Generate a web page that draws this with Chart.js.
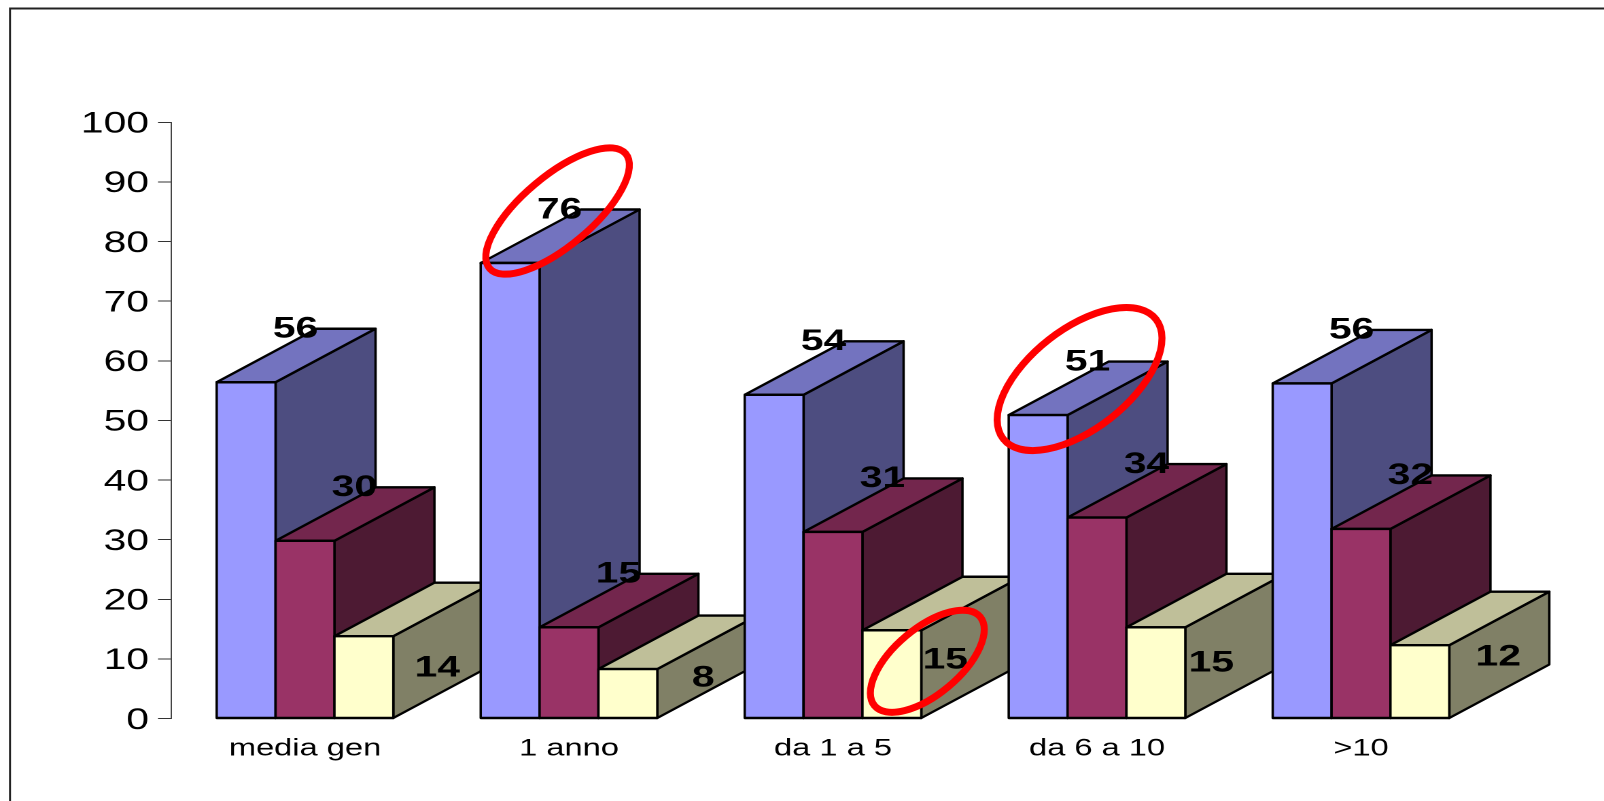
<!DOCTYPE html>
<html>
<head>
<meta charset="utf-8">
<style>
  html, body { margin: 0; padding: 0; background: #fff; overflow: hidden; }
  /* the reference is a stretched picture, so the canvas is drawn narrow and widened */
  #chart { width: 1604px !important; height: 801px !important; }
</style>
<script src="https://cdn.jsdelivr.net/npm/chart.js@4"></script>
</head>
<body>
<canvas id="chart" width="1180" height="801"></canvas>
<script>
const categories = ['media gen', '1 anno', 'da 1 a 5', 'da 6 a 10', '>10'];
const blueValues = [56.4, 76.4, 54.3, 50.9, 56.2];
const maroonValues = [29.8, 15.3, 31.3, 33.7, 31.8];
const yellowValues = [13.8, 8.3, 14.8, 15.3, 12.3];
const yTicks = [0, 10, 20, 30, 40, 50, 60, 70, 80, 90, 100];

const STRETCH = 1604 / 1180;
const DEPTH_X = 100;
const DEPTH_Y = 53.5;
const BAR_SHIFT = 2;

const palette = [
    { front: '#9999ff', top: '#7373bf', side: '#4d4d80' },
    { front: '#993366', top: '#73264d', side: '#4d1a33' },
    { front: '#ffffcc', top: '#bfbf99', side: '#808066' },
];

// where the value labels sit, measured from the front top right corner
const backLabelOffset = [20, -53];
const yellowLabelOffsets = [[44, 32], [46, 9], [24, 30], [26, 36], [49, 12]];

// red hand drawn rings: dataset, category, centre offset, radii, angle
const rings = [
    { ds: 0, cat: 1, dx: 18, dy: -52, a: 89, b: 35, angle: -40 },
    { ds: 0, cat: 3, dx: 12, dy: -36, a: 97, b: 50, angle: -38 },
    { ds: 2, cat: 2, dx: 6, dy: 31, a: 69, b: 33, angle: -40 },
];

function poly(ctx, pts, fill) {
    ctx.beginPath();
    pts.forEach((p, i) => (i ? ctx.lineTo(p[0], p[1]) : ctx.moveTo(p[0], p[1])));
    ctx.closePath();
    ctx.fillStyle = fill;
    ctx.fill();
    ctx.stroke();
}

function barBox(chart, ds, cat) {
    const el = chart.getDatasetMeta(ds).data[cat];
    return {
        x0: (el.x - el.width / 2) * STRETCH + BAR_SHIFT,
        x1: (el.x + el.width / 2) * STRETCH + BAR_SHIFT,
        y: el.y,
        base: el.base,
    };
}

const frame = {
    id: 'frame',
    beforeDraw(chart) {
        const ctx = chart.ctx;
        ctx.save();
        ctx.scale(1 / STRETCH, 1);
        ctx.strokeStyle = '#222';
        ctx.lineWidth = 2;
        ctx.beginPath();
        ctx.moveTo(10, 801);
        ctx.lineTo(10, 8.5);
        ctx.lineTo(1604, 8.5);
        ctx.stroke();
        ctx.restore();
    },
};

const bars3d = {
    id: 'bars3d',
    afterDatasetsDraw(chart) {
        const ctx = chart.ctx;
        ctx.save();
        ctx.scale(1 / STRETCH, 1);
        ctx.strokeStyle = '#000';
        ctx.lineWidth = 2.4;
        ctx.lineJoin = 'round';
        categories.forEach((_, cat) => {
            palette.forEach((col, ds) => {
                const b = barBox(chart, ds, cat);
                poly(ctx, [[b.x1, b.y], [b.x1 + DEPTH_X, b.y - DEPTH_Y], [b.x1 + DEPTH_X, b.base - DEPTH_Y], [b.x1, b.base]], col.side);
                poly(ctx, [[b.x0, b.y], [b.x0 + DEPTH_X, b.y - DEPTH_Y], [b.x1 + DEPTH_X, b.y - DEPTH_Y], [b.x1, b.y]], col.top);
                poly(ctx, [[b.x0, b.y], [b.x1, b.y], [b.x1, b.base], [b.x0, b.base]], col.front);
            });
        });
        ctx.restore();

        // value labels
        ctx.save();
        ctx.font = 'bold 30px "Liberation Sans"';
        ctx.fillStyle = '#000';
        ctx.textAlign = 'center';
        ctx.textBaseline = 'middle';
        chart.data.datasets.forEach((set, ds) => {
            set.data.forEach((v, cat) => {
                const b = barBox(chart, ds, cat);
                const off = ds === 2 ? yellowLabelOffsets[cat] : backLabelOffset;
                ctx.fillText(String(Math.round(v)), (b.x1 + off[0]) / STRETCH, b.y + off[1]);
            });
        });
        ctx.restore();

        // red rings
        ctx.save();
        ctx.scale(1 / STRETCH, 1);
        ctx.strokeStyle = '#ff0000';
        ctx.lineWidth = 7;
        rings.forEach((r) => {
            const b = barBox(chart, r.ds, r.cat);
            ctx.beginPath();
            ctx.ellipse(b.x1 + r.dx, b.y + r.dy, r.a, r.b, r.angle * Math.PI / 180, 0, Math.PI * 2);
            ctx.stroke();
        });
        ctx.restore();
    },
};

new Chart(document.getElementById('chart'), {
    type: 'bar',
    data: {
        labels: categories,
        datasets: [
            { label: 'a', data: blueValues, backgroundColor: 'transparent' },
            { label: 'b', data: maroonValues, backgroundColor: 'transparent' },
            { label: 'c', data: yellowValues, backgroundColor: 'transparent' },
        ],
    },
    options: {
        responsive: false,
        devicePixelRatio: 2,
        animation: false,
        layout: { padding: { top: 122.3, right: (1604 - 1491) / STRETCH, left: 0, bottom: 0 } },
        datasets: { bar: { barPercentage: 1, categoryPercentage: 0.669 } },
        plugins: { legend: { display: false }, tooltip: { enabled: false } },
        scales: {
            x: {
                grid: { display: false },
                border: { display: false },
                ticks: {
                    font: { family: '"Liberation Sans"', size: 24 },
                    color: '#000',
                    padding: 8,
                    labelOffset: 2 / STRETCH,
                    maxRotation: 0,
                    autoSkip: false,
                },
                afterFit(scale) { scale.height = 801 - 718.5; },
            },
            y: {
                min: 0,
                max: 100,
                afterBuildTicks(scale) { scale.ticks = yTicks.map((v) => ({ value: v })); },
                grid: { drawOnChartArea: false, tickLength: 13 / STRETCH, tickColor: '#333', lineWidth: 1 },
                border: { color: '#444', width: 1 },
                ticks: {
                    font: { family: '"Liberation Sans"', size: 30 },
                    color: '#000',
                    padding: 9 / STRETCH,
                    labelOffset: 2,
                },
                afterFit(scale) { scale.width = 171 / STRETCH; },
            },
        },
    },
    plugins: [frame, bars3d],
});
</script>
</body>
</html>
